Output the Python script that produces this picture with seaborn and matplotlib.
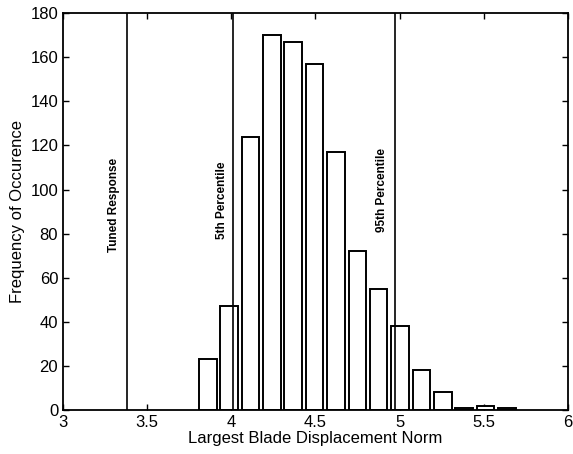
import numpy as np
import pandas as pd
import seaborn as sns
import matplotlib
matplotlib.use("Agg")
import matplotlib.pyplot as plt

# Histogram bins (bin centres and counts)
bin_centers = [3.860, 3.987, 4.114, 4.241, 4.368, 4.495, 4.622, 4.749,
               4.876, 5.003, 5.130, 5.257, 5.384, 5.511, 5.638]
counts = [23, 47, 124, 170, 167, 157, 117, 72, 55, 38, 18, 8, 1, 2, 1]

# Reference lines and their labels
line_x = [3.38, 4.01, 4.97]
line_labels = ["Tuned Response", "5th Percentile", "95th Percentile"]
label_x = [3.30, 3.945, 4.895]
label_y = [93, 95, 100]

x_ticks = [3, 3.5, 4, 4.5, 5, 5.5, 6]
x_ticklabels = ["3", "3.5", "4", "4.5", "5", "5.5", "6"]
y_ticks = list(range(0, 181, 20))

df = pd.DataFrame({"norm": bin_centers, "count": counts})
step = np.mean(np.diff(bin_centers))

sns.set_style("ticks")
plt.rcParams["font.family"] = ["Liberation Sans", "DejaVu Sans"]
plt.rcParams["text.color"] = "black"
plt.rcParams["axes.labelcolor"] = "black"
plt.rcParams["xtick.color"] = "black"
plt.rcParams["ytick.color"] = "black"
plt.rcParams["axes.edgecolor"] = "black"

fig = plt.figure(figsize=(5.73, 4.54), dpi=100)
ax = fig.add_axes([0.110, 0.097, 0.881, 0.874])

# Histogram from the bin counts (weights), narrow bars like MATLAB's hist
sns.histplot(data=df, x="norm", weights="count",
             binwidth=step,
             binrange=(bin_centers[0] - step/2, bin_centers[-1] + step/2),
             shrink=0.82, color="white", edgecolor="black",
             linewidth=1.4, alpha=1, ax=ax)

# Vertical reference lines with rotated labels
for xv, lab, tx, ty in zip(line_x, line_labels, label_x, label_y):
    ax.axvline(xv, color="black", linewidth=1.2)
    ax.text(tx, ty, lab, rotation=90, ha="center", va="center",
            fontsize=8.5, fontweight="bold")

ax.set_xlim(3, 6)
ax.set_ylim(0, 180)
ax.set_xticks(x_ticks)
ax.set_xticklabels(x_ticklabels)
ax.set_yticks(y_ticks)
ax.tick_params(direction="in", top=True, right=True, labelsize=12,
               length=4, width=1)
for sp in ax.spines.values():
    sp.set_visible(True)
    sp.set_linewidth(1.3)
ax.set_xlabel("Largest Blade Displacement Norm", fontsize=12, labelpad=1)
ax.set_ylabel("Frequency of Occurence", fontsize=12, labelpad=4)

fig.savefig("out.png", dpi=100)
